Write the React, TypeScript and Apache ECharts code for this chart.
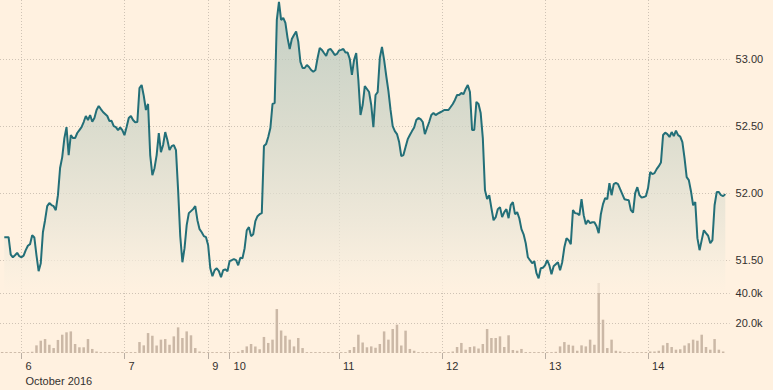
import React, { useEffect, useRef } from 'react';
import * as echarts from 'echarts';

// Half-hour time slots on the x axis
const SLOT_COUNT = 341;
const dayTickSlots = [10, 58, 97, 107, 158, 206, 254, 302];
const dayTickLabels = ['6', '7', '9', '10', '11', '12', '13', '14'];
const monthLabel = 'October 2016';

// Price, one value per half-hour slot, starting at slot 2
const priceStartSlot = 2;
const prices = [
  51.67, 51.67, 51.67, 51.54, 51.52, 51.535, 51.553, 51.528, 51.52, 51.532,
  51.573, 51.606, 51.618, 51.685, 51.668, 51.535, 51.416, 51.475, 51.707, 51.797,
  51.902, 51.925, 51.91, 51.902, 51.872, 51.984, 52.187, 52.269, 52.411, 52.493,
  52.284, 52.434, 52.411, 52.411, 52.449, 52.471, 52.493, 52.531, 52.576, 52.546,
  52.583, 52.533, 52.561, 52.621, 52.651, 52.628, 52.606, 52.591, 52.576, 52.538,
  52.54, 52.5, 52.493, 52.471, 52.49, 52.471, 52.433, 52.493, 52.561, 52.576,
  52.546, 52.529, 52.531, 52.785, 52.808, 52.726, 52.621, 52.666, 52.284, 52.134,
  52.186, 52.284, 52.448, 52.306, 52.359, 52.456, 52.396, 52.321, 52.351, 52.359,
  52.321, 52.022, 51.678, 51.483, 51.588, 51.76, 51.85, 51.865, 51.88, 51.902,
  51.797, 51.73, 51.707, 51.678, 51.67, 51.61, 51.438, 51.378, 51.423, 51.438,
  51.416, 51.371, 51.423, 51.43, 51.416, 51.491, 51.498, 51.506, 51.498, 51.46,
  51.517, 51.513, 51.588, 51.722, 51.745, 51.678, 51.692, 51.79, 51.827, 51.842,
  51.85, 52.351, 52.366, 52.419, 52.486, 52.666, 52.673, 53.294, 53.429, 53.294,
  53.309, 53.272, 53.16, 53.077, 53.152, 53.182, 53.207, 53.132, 52.98, 52.935,
  52.935, 52.957, 52.942, 52.92, 52.907, 52.92, 53.01, 53.085, 53.07, 53.047,
  53.025, 53.07, 53.077, 53.057, 53.032, 53.04, 53.066, 53.07, 53.077, 53.05,
  53.05, 53.002, 52.883, 52.995, 53.047, 52.845, 52.583, 52.658, 52.8, 52.778,
  52.755, 52.658, 52.493, 52.733, 52.755, 53.01, 53.092, 52.995, 52.875, 52.763,
  52.621, 52.501, 52.463, 52.441, 52.381, 52.276, 52.284, 52.344, 52.403, 52.434,
  52.463, 52.49, 52.546, 52.561, 52.553, 52.531, 52.441, 52.486, 52.531, 52.583,
  52.598, 52.583, 52.594, 52.602, 52.61, 52.621, 52.621, 52.621, 52.643, 52.666,
  52.696, 52.733, 52.733, 52.748, 52.74, 52.778, 52.808, 52.755, 52.471, 52.471,
  52.681, 52.666, 52.598, 52.411, 52.022, 51.955, 51.984, 51.887, 51.797, 51.82,
  51.88, 51.895, 51.82, 51.857, 51.88, 51.812, 51.91, 51.932, 51.842, 51.857,
  51.812, 51.73, 51.692, 51.625, 51.52, 51.498, 51.475, 51.49, 51.401, 51.363,
  51.438, 51.442, 51.46, 51.498, 51.46, 51.393, 51.453, 51.468, 51.483, 51.423,
  51.483, 51.595, 51.663, 51.648, 51.618, 51.872, 51.85, 51.847, 51.835, 51.954,
  51.835, 51.767, 51.797, 51.775, 51.782, 51.782, 51.752, 51.7, 51.842, 51.917,
  51.962, 51.954, 52.074, 51.984, 52.067, 52.076, 52.067, 52.029, 51.992, 51.954,
  51.95, 51.947, 51.872, 51.853, 52.0, 52.044, 51.984, 51.966, 51.97, 51.977,
  52.037, 52.157, 52.142, 52.149, 52.179, 52.201, 52.228, 52.434, 52.451, 52.441,
  52.419, 52.456, 52.426, 52.467, 52.433, 52.422, 52.381, 52.261, 52.119, 52.097,
  52.014, 51.909, 51.932, 51.663, 51.573, 51.648, 51.722, 51.7, 51.681, 51.625,
  51.648, 51.909, 52.007, 52.007, 51.984, 51.977, 51.992,
];

// Hourly volume in thousands (hour k sits on slot 2k+1)
const volumesK = [
  0.6, 0.6, 0.6, 0.6, 0.6, 0.6, 0.6, 0.8,
  5.1, 8.2, 9.3, 5.5, 3.3, 8.7, 12.2, 13.8, 14.4, 6.0, 3.8, 3.8, 9.3, 2.7, 1.0,
  0.6, 0.6, 0.6, 0.6, 0.6, 0.6, 0.6, 0.6, 0.6,
  7.3, 5.1, 13.3, 11.5, 5.0, 8.9, 9.3, 5.5, 11.1, 17.1, 10.0, 14.4, 11.8, 3.3, 1.0,
  0.6, 0.6, 0.6, 0.6, 0.6, 0.6, 0.6, 0.6,
  0.8, 2.0, 4.4, 6.0, 4.4, 2.5, 10.7, 6.7, 8.9, 29.3, 15.0, 11.5, 8.9, 4.4, 10.0, 3.3,
  0.6, 0.6, 0.6, 0.6, 0.6, 0.6, 0.6, 0.6, 0.6, 0.6,
  2.0, 4.0, 12.2, 7.0, 3.8, 4.4, 3.5, 6.0, 14.4, 8.9, 16.0, 18.9, 5.0, 14.9, 2.7, 1.5,
  0.6, 0.6, 0.6, 0.6, 0.6, 0.6, 0.6, 0.6,
  1.0, 4.0, 6.7, 2.2, 4.0, 4.4, 3.0, 6.0, 16.0, 10.0, 10.0, 11.1, 4.0, 11.8, 2.0, 1.5, 2.7,
  0.6, 0.6, 0.6, 0.6, 0.6, 0.6, 0.6,
  0.8, 4.4, 7.3, 5.5, 4.9, 1.5, 5.1, 4.4, 8.9, 5.5, 46.7, 22.2, 3.3, 8.9, 1.5, 1.0,
  0.6, 0.6, 0.6, 0.6, 0.6, 0.6,
  1.0, 1.0, 1.5, 5.1, 6.7, 4.0, 2.2, 2.5, 5.0, 6.5, 8.9, 8.2, 12.2, 4.0, 2.2, 9.3, 2.2, 1.0,
];

const FONT = '"Liberation Sans", Arial, sans-serif';
const TEXT = '#33302e';
const GRID_LINE = '#cfc3b5';

export default function App() {
  const ref = useRef<HTMLDivElement>(null);

  useEffect(() => {
    if (!ref.current) return;
    const chart = echarts.init(ref.current, null, { renderer: 'svg' });

    const categories = Array.from({ length: SLOT_COUNT }, (_, i) => String(i));
    const priceSeries = categories.map((_, i) => {
      const j = i - priceStartSlot;
      return j >= 0 && j < prices.length ? prices[j] : '-';
    });
    const volSeries = categories.map((_, i) => {
      const k = (i - 1) / 2;
      return i % 2 === 1 && k < volumesK.length ? volumesK[k] : '-';
    });
    const isDay = (i: number) => dayTickSlots.indexOf(i) >= 0;
    const split = {
      show: true,
      interval: (i: number) => isDay(i),
      lineStyle: { color: GRID_LINE, type: [1, 2], width: 1 },
    };
    const hsplit = { color: GRID_LINE, type: [1, 2], width: 1 };

    chart.setOption({
      animation: false,
      backgroundColor: '#fff1e0',
      grid: [
        { left: 0, right: 43.4, top: 0, height: 293 },
        { left: 0, right: 43.4, top: 293, height: 60 },
      ],
      xAxis: [
        {
          type: 'category',
          gridIndex: 0,
          data: categories,
          boundaryGap: false,
          axisLine: { show: false },
          axisTick: { show: false },
          axisLabel: { show: false },
          splitLine: split,
        },
        {
          type: 'category',
          gridIndex: 1,
          data: categories,
          boundaryGap: false,
          axisLine: { show: false },
          axisTick: {
            show: true,
            interval: (i: number) => isDay(i),
            length: 6,
            lineStyle: { color: '#b9aea3', width: 1 },
          },
          axisLabel: {
            interval: (i: number) => isDay(i),
            formatter: (v: string) => {
              const k = dayTickSlots.indexOf(Number(v));
              if (k < 0) return '';
              return k === 0 ? dayTickLabels[k] + '\n' + monthLabel : dayTickLabels[k];
            },
            align: 'left',
            padding: [0, 0, 0, 4],
            margin: 5,
            lineHeight: 15,
            fontSize: 11,
            fontFamily: FONT,
            color: TEXT,
          },
          splitLine: split,
        },
      ],
      yAxis: [
        {
          type: 'value',
          gridIndex: 0,
          position: 'right',
          min: 51.253,
          max: 53.443,
          splitNumber: 4,
          axisLine: { show: false },
          axisTick: { show: false },
          axisLabel: {
            showMinLabel: false,
            showMaxLabel: false,
            formatter: (v: number) =>
              Math.abs(v * 2 - Math.round(v * 2)) > 1e-6 ? '' : v.toFixed(2),
            margin: 6,
            fontSize: 11,
            fontFamily: FONT,
            color: TEXT,
          },
          splitLine: { show: true, showMinLine: false, showMaxLine: false, lineStyle: hsplit },
        },
        {
          type: 'value',
          gridIndex: 1,
          position: 'right',
          min: 0,
          max: 40,
          interval: 20,
          axisLine: { show: false },
          axisTick: { show: false },
          axisLabel: {
            showMinLabel: false,
            formatter: (v: number) => (v === 0 ? '' : v.toFixed(1) + 'k'),
            margin: 6,
            fontSize: 11,
            fontFamily: FONT,
            color: TEXT,
          },
          splitLine: { show: true, showMinLine: false, lineStyle: hsplit },
        },
      ],
      series: [
        {
          type: 'line',
          xAxisIndex: 0,
          yAxisIndex: 0,
          data: priceSeries,
          symbol: 'none',
          showSymbol: false,
          lineStyle: { color: '#236f78', width: 2 },
          areaStyle: {
            origin: 'start',
            color: new echarts.graphic.LinearGradient(0, 0, 0, 1, [
              { offset: 0, color: '#abc1b9' },
              { offset: 0.45, color: '#cdd4c7' },
              { offset: 0.75, color: '#e7e4d6' },
              { offset: 0.93, color: '#f9efdf' },
              { offset: 1, color: '#fff1e0' },
            ]),
          },
          z: 3,
        },
        {
          type: 'bar',
          xAxisIndex: 1,
          yAxisIndex: 1,
          data: volSeries,
          barWidth: 2.5,
          clip: false,
          itemStyle: { color: '#cbb8a6' },
        },
      ],
    });

    return () => chart.dispose();
  }, []);

  return (
    <div
      ref={ref}
      style={{ position: 'fixed', left: 0, top: 0, width: 773, height: 390 }}
    />
  );
}
